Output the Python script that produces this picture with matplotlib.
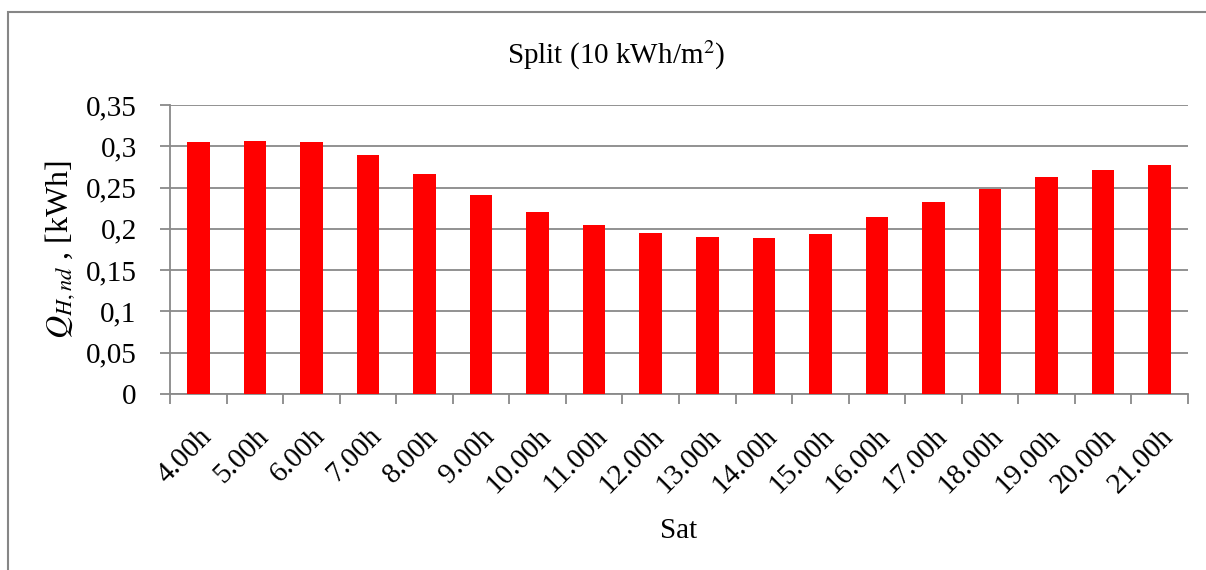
import matplotlib
matplotlib.use("Agg")
import matplotlib.pyplot as plt
import matplotlib.transforms as mtransforms
from matplotlib.patches import Rectangle
import numpy as np

categories = ["4.00h", "5.00h", "6.00h", "7.00h", "8.00h", "9.00h", "10.00h", "11.00h",
              "12.00h", "13.00h", "14.00h", "15.00h", "16.00h", "17.00h", "18.00h",
              "19.00h", "20.00h", "21.00h"]
values = [0.305, 0.307, 0.305, 0.290, 0.266, 0.241, 0.221, 0.205,
          0.195, 0.190, 0.189, 0.194, 0.214, 0.232, 0.248, 0.263, 0.271, 0.277]
yticks = [0, 0.05, 0.1, 0.15, 0.2, 0.25, 0.3, 0.35]
ytick_labels = ["0", "0,05", "0,1", "0,15", "0,2", "0,25", "0,3", "0,35"]

plt.rcParams['font.family'] = ['Liberation Serif', 'DejaVu Serif']
plt.rcParams['mathtext.fontset'] = 'stix'

W, H = 1206, 570
fig = plt.figure(figsize=(W/100, H/100), dpi=100)
fig.add_artist(Rectangle((8/W, -0.05), 1.2, 1 - 12/H + 0.05, transform=fig.transFigure,
                         fill=False, edgecolor='#868686', linewidth=1.5))

ax = fig.add_axes([170/W, 1-394/H, (1188-170)/W, (394-105)/H])
gray = '#898989'
x = np.arange(len(categories))
ax.bar(x, values, width=0.4, color='#ff0000', zorder=3)
ax.set_xlim(-0.5, len(categories) - 0.5)
ax.set_ylim(0, 0.35)
ax.set_yticks(yticks)
ax.set_yticklabels(ytick_labels, fontsize=21)
ax.yaxis.grid(True, color=gray, linewidth=1.3, zorder=0)
ax.set_axisbelow(True)
ax.set_xticks(x)
ax.set_xticklabels(categories, rotation=45, ha='right', rotation_mode='anchor', fontsize=21)
offset = mtransforms.ScaledTranslation(-7/100, 0, fig.dpi_scale_trans)
for lbl in ax.get_xticklabels():
    lbl.set_transform(lbl.get_transform() + offset)
ax.set_xticks(np.arange(-0.5, len(categories), 1), minor=True)
ax.tick_params(axis='x', which='major', length=0, pad=21)
ax.tick_params(axis='x', which='minor', length=7, color=gray, width=1.3, direction='out')
ax.tick_params(axis='y', length=7, color=gray, width=1.3, pad=17)
for s in ['top', 'right']:
    ax.spines[s].set_visible(False)
for s in ['left', 'bottom']:
    ax.spines[s].set_color(gray)
    ax.spines[s].set_linewidth(1.3)

fig.text(616/W, 1 - 55/H, "Split (10 kWh/m$^2$)", fontsize=21, ha='center', va='center')
ax.set_ylabel(r"$Q_{H,nd}$ , [kWh]", fontsize=23, labelpad=6)
ax.set_xlabel("Sat", fontsize=21, labelpad=14)

fig.savefig("out.png", dpi=100)
